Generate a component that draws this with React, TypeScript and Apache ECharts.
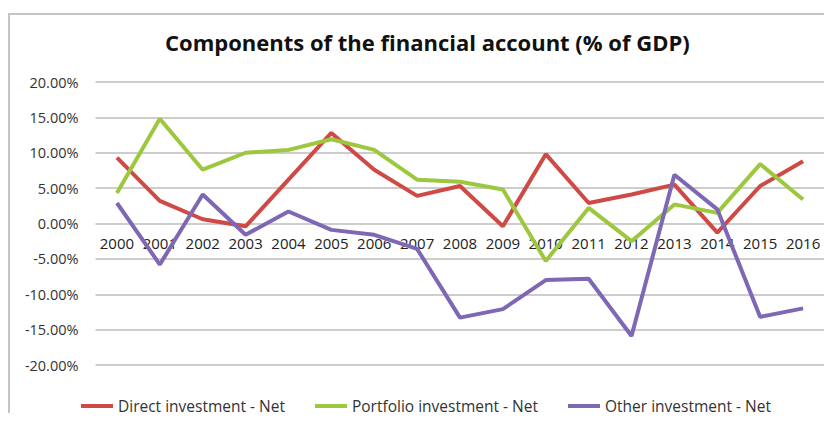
import React, { useEffect, useRef } from "react";
import * as echarts from "echarts";

const years = ["2000","2001","2002","2003","2004","2005","2006","2007","2008","2009","2010","2011","2012","2013","2014","2015","2016"];
const directInvestment = [9.3, 3.2, 0.6, -0.4, 6.2, 12.8, 7.6, 3.9, 5.3, -0.4, 9.8, 2.9, 4.1, 5.5, -1.3, 5.3, 8.8];
const portfolioInvestment = [4.3, 14.8, 7.6, 10.0, 10.4, 11.9, 10.4, 6.2, 5.9, 4.8, -5.3, 2.2, -2.5, 2.7, 1.5, 8.4, 3.4];
const otherInvestment = [2.9, -5.8, 4.1, -1.6, 1.7, -0.9, -1.6, -3.6, -13.3, -12.1, -8.0, -7.8, -15.9, 6.9, 2.0, -13.2, -12.0];
const seriesNames = ["Direct investment - Net", "Portfolio investment - Net", "Other investment - Net"];
const titleText = "Components of the financial account (% of GDP)";

const colors = ["#CF4A45", "#9CC73F", "#7E68B4"];
const fontFamily = "'Open Sans', 'Noto Sans', sans-serif";

export default function App() {
  const ref = useRef<HTMLDivElement>(null);
  useEffect(() => {
    if (!ref.current) return;
    const chart = echarts.init(ref.current, undefined, { renderer: "svg" });
    const data = [directInvestment, portfolioInvestment, otherInvestment];
    chart.setOption({
      animation: false,
      backgroundColor: "#ffffff",
      textStyle: { fontFamily },
      title: {
        text: titleText,
        left: 165,
        top: 31,
        padding: 0,
        textStyle: { fontFamily, fontSize: 22, fontWeight: "bold", color: "#111" },
      },
      graphic: [
        {
          type: "rect",
          shape: { x: 9, y: 14, width: 821, height: 420 },
          style: { fill: "none", stroke: "#c4c4c4", lineWidth: 2 },
          silent: true,
        },
      ],
      legend: {
        left: 76,
        top: 393,
        itemWidth: 32,
        itemHeight: 4,
        itemGap: 30,
        icon: "rect",
        textStyle: { fontFamily, fontSize: 15.5, color: "#333" },
        data: seriesNames,
      },
      grid: { left: 95.5, right: 7.5, top: 82, bottom: 56, containLabel: false },
      xAxis: {
        type: "category",
        data: years,
        boundaryGap: true,
        position: "bottom",
        offset: -141,
        axisLine: { show: false },
        axisTick: { show: false },
        axisLabel: { fontFamily, fontSize: 15, color: "#222", margin: 11, interval: 0, hideOverlap: false },
      },
      yAxis: {
        type: "value",
        min: -20,
        max: 20,
        interval: 5,
        axisLine: { show: false },
        axisTick: { show: false },
        splitLine: { lineStyle: { color: "#bdbdbd", width: 1.5 } },
        axisLabel: {
          fontFamily,
          fontSize: 14.5,
          color: "#333",
          margin: 17,
          formatter: (v: number) => v.toFixed(2) + "%",
        },
      },
      series: seriesNames.map((name, i) => ({
        name,
        type: "line",
        data: data[i],
        symbol: "none",
        lineStyle: { color: colors[i], width: 4 },
        itemStyle: { color: colors[i] },
      })),
    });
    return () => chart.dispose();
  }, []);
  return <div ref={ref} style={{ width: 832, height: 421, margin: -8 }} />;
}
